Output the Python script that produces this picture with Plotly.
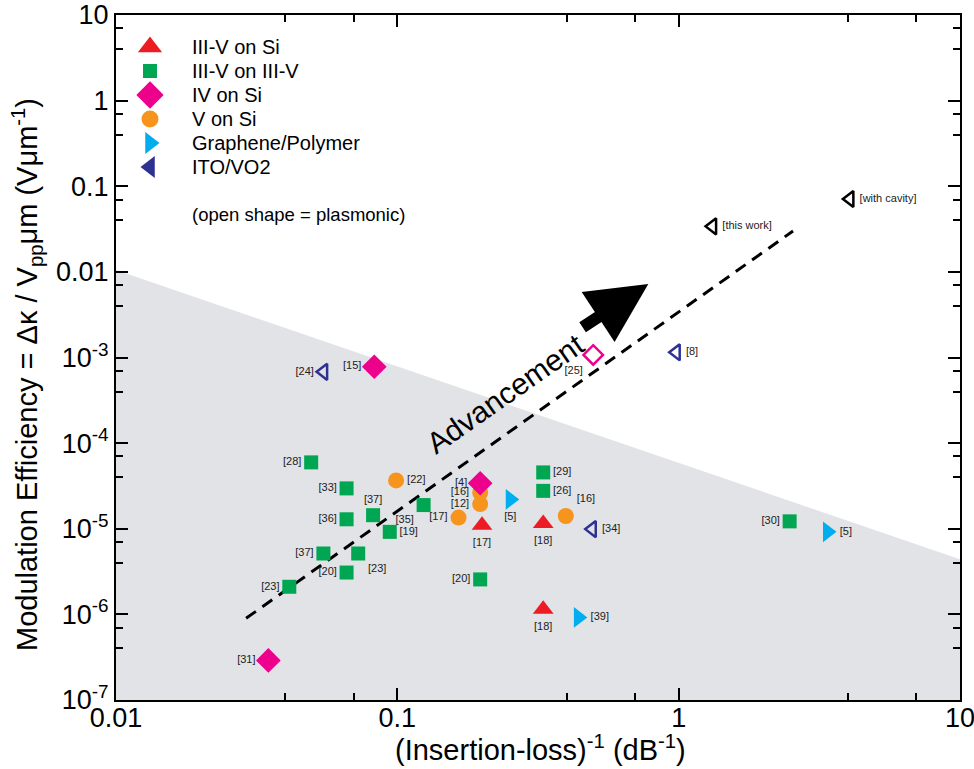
import plotly.graph_objects as go
import math

# ---------------- data ----------------
si35_x = [0.20, 0.33, 0.33]
si35_y = [1.1e-5, 1.15e-5, 1.15e-6]
si35_lab = ["[17]", "[18]", "[18]"]
si35_pos = ["bottom center", "bottom center", "bottom center"]

v35_x = [0.0494, 0.066, 0.066, 0.082, 0.094, 0.124, 0.0546, 0.0726, 0.066, 0.0413, 0.197, 0.33, 0.33, 2.48]
v35_y = [5.96e-5, 2.96e-5, 1.29e-5, 1.44e-5, 9.2e-6, 1.89e-5, 5.14e-6, 5.14e-6, 3.08e-6, 2.1e-6, 2.56e-6, 4.55e-5, 2.77e-5, 1.22e-5]
v35_lab = ["[28]", "[33]", "[36]", "[37]", "[19]", "[35]", "[37]", "[23]", "[20]", "[23]", "[20]", "[29]", "[26]", "[30]"]
v35_pos = ["middle left", "middle left", "middle left", "top center", "middle right", "bottom left",
           "middle left", "bottom right", "middle left", "middle left", "middle left",
           "middle right", "middle right", "middle left"]

ivsi_x = [0.0828, 0.0348, 0.197]
ivsi_y = [7.8e-4, 2.9e-7, 3.4e-5]
ivsi_lab = ["[15]", "[31]", "[4]"]
ivsi_pos = ["middle left", "middle left", "middle left"]

ivsi_open_x = [0.497]
ivsi_open_y = [1.07e-3]
ivsi_open_lab = ["[25]"]

vsi_x = [0.099, 0.197, 0.197, 0.165, 0.397]
vsi_y = [3.67e-5, 2.65e-5, 1.94e-5, 1.35e-5, 1.41e-5]
vsi_lab = ["[22]", "[16]", "[12]", "[17]", "[16]"]
vsi_pos = ["middle right", "middle left", "middle left", "middle left", "top right"]

gp_x = [0.252, 3.38, 0.44]
gp_y = [2.2e-5, 9.2e-6, 9.2e-7]
gp_lab = ["[5]", "[5]", "[39]"]
gp_pos = ["bottom center", "middle right", "middle right"]

ito_x = [0.0547, 0.493, 0.98]
ito_y = [6.8e-4, 9.9e-6, 1.15e-3]
ito_lab = ["[24]", "[34]", "[8]"]
ito_pos = ["middle left", "middle right", "middle right"]

work_x = [1.32, 4.06]
work_y = [0.034, 0.071]
work_lab = ["[this work]", "[with cavity]"]

shade_x = [0.01, 10, 10, 0.01]
shade_y = [0.0105, 4.4e-6, 1e-7, 1e-7]

trend_x = [0.029, 2.55]
trend_y = [9e-7, 0.030]

x_ticks = [0.01, 0.1, 1, 10]
x_ticktext = ["0.01", "0.1", "1", "10"]
y_ticks = [1e-7, 1e-6, 1e-5, 1e-4, 1e-3, 0.01, 0.1, 1, 10]
y_ticktext = ["10<sup>-7</sup>", "10<sup>-6</sup>", "10<sup>-5</sup>", "10<sup>-4</sup>", "10<sup>-3</sup>",
              "0.01", "0.1", "1", "10"]

legend_names = ["III-V on Si", "III-V on III-V", "IV on Si", "V on Si", "Graphene/Polymer", "ITO/VO2"]
legend_note = "(open shape = plasmonic)"

RED = "#ed1c24"
GREEN = "#00a651"
MAG = "#ec008c"
ORANGE = "#f7941d"
BLUE = "#00aeef"
NAVY = "#2e3192"
FONT = "Liberation Sans, Arial, sans-serif"
LABF = dict(family=FONT, size=11, color="#222")

legend_symbols = ["triangle-up", "square", "diamond", "circle", "triangle-right", "triangle-left"]
legend_colors = [RED, GREEN, MAG, ORANGE, BLUE, NAVY]
legend_sizes = [21, 14, 21, 17, 19, 19]

fig = go.Figure()

fig.add_trace(go.Scatter(x=shade_x, y=shade_y, fill="toself", mode="lines",
                         line=dict(width=0), fillcolor="#e1e3e6", showlegend=False, hoverinfo="skip"))
fig.add_trace(go.Scatter(x=trend_x, y=trend_y, mode="lines",
                         line=dict(color="black", width=3, dash="12px,8px"), showlegend=False))


def pts(x, y, lab, pos, sym, size, color, lw=0):
    fig.add_trace(go.Scatter(
        x=x, y=y, mode="markers+text", text=lab, textposition=pos, textfont=LABF,
        showlegend=False,
        marker=dict(symbol=sym, size=size, color=color, opacity=1, line=dict(width=lw, color=color))))


pts(v35_x, v35_y, v35_lab, v35_pos, "square", 14, GREEN)
pts(vsi_x, vsi_y, vsi_lab, vsi_pos, "circle", 16, ORANGE)
pts(si35_x, si35_y, si35_lab, si35_pos, "triangle-up", 18, RED)
pts(ivsi_x, ivsi_y, ivsi_lab, ivsi_pos, "diamond", 19, MAG)
pts(ivsi_open_x, ivsi_open_y, ivsi_open_lab, ["bottom left"], "diamond-open", 15, MAG, lw=2.5)
pts(gp_x, gp_y, gp_lab, gp_pos, "triangle-right", 18, BLUE)
pts(ito_x, ito_y, ito_lab, ito_pos, "triangle-left-open", 14, NAVY, lw=2.5)
pts(work_x, work_y, work_lab, ["middle right", "middle right"], "triangle-left-open", 14, "black", lw=2.5)

# ---- custom legend drawn on an overlay axis measured in plot-area pixels ----
leg_x0, leg_y0, leg_dy, leg_tx = 34, 32, 24, 74
n = len(legend_names)
fig.add_trace(go.Scatter(
    x=[leg_x0] * n, y=[leg_y0 + i * leg_dy for i in range(n)], xaxis="x2", yaxis="y2",
    mode="markers", showlegend=False, hoverinfo="skip",
    marker=dict(symbol=legend_symbols, color=legend_colors, size=legend_sizes, opacity=1,
                line=dict(width=0))))
for i, name in enumerate(legend_names):
    fig.add_annotation(x=leg_tx, y=leg_y0 + i * leg_dy, xref="x2", yref="y2", text=name,
                       xanchor="left", yanchor="middle", showarrow=False,
                       font=dict(family=FONT, size=20, color="black"))
fig.add_annotation(x=leg_tx, y=leg_y0 + n * leg_dy + 23, xref="x2", yref="y2", text=legend_note,
                   xanchor="left", yanchor="middle", showarrow=False,
                   font=dict(family=FONT, size=18.5, color="black"))

fig.add_annotation(x=-0.616, y=-3.416, xref="x", yref="y", text="Advancement",
                   showarrow=False, textangle=-35, font=dict(family=FONT, size=30, color="black"))
fig.add_annotation(x=math.log10(0.78), y=math.log10(7.2e-3), ax=math.log10(0.45), ay=math.log10(2.2e-3),
                   xref="x", yref="y", axref="x", ayref="y", text="", showarrow=True,
                   arrowhead=2, arrowsize=1.0, arrowwidth=12, arrowcolor="black")

# axis titles
fig.add_annotation(x=(27 - 116) / 844, y=(700 - 375) / 685, xref="paper", yref="paper", textangle=-90,
                   xanchor="center", yanchor="middle",
                   text="Modulation Efficiency = Δκ / V<sub>pp</sub>μm (Vμm<sup>-1</sup>)",
                   showarrow=False, font=dict(family=FONT, size=29, color="black"))
fig.add_annotation(x=(540 - 116) / 844, y=(700 - 748) / 685, xref="paper", yref="paper",
                   xanchor="center", yanchor="middle",
                   text="(Insertion-loss)<sup>-1</sup> (dB<sup>-1</sup>)",
                   showarrow=False, font=dict(family=FONT, size=29, color="black"))

axis_common = dict(type="log", showline=True, linecolor="black", linewidth=2, mirror="ticks",
                   ticks="inside", ticklen=12, tickwidth=2, tickcolor="black", showgrid=False,
                   zeroline=False, automargin=False, ticklabeloverflow="allow",
                   tickfont=dict(family=FONT, size=27, color="black"))

y_minor = [m * 10.0 ** e for e in range(-7, 1) for m in (4, 7)]
fig.update_layout(
    xaxis=dict(range=[-2, 1], tickvals=x_ticks, ticktext=x_ticktext, ticklabelstandoff=-7,
               minor=dict(tickvals=[0.04, 0.07, 0.4, 0.7, 4, 7], ticks="inside", ticklen=7,
                          tickwidth=2, tickcolor="black", showgrid=False),
               **axis_common),
    yaxis=dict(range=[-7, 1], tickvals=y_ticks, ticktext=y_ticktext,
               minor=dict(tickvals=y_minor, ticks="inside", ticklen=7, tickwidth=2,
                          tickcolor="black", showgrid=False),
               **axis_common),
    xaxis2=dict(overlaying="x", anchor="y2", range=[0, 844], visible=False, fixedrange=True),
    yaxis2=dict(overlaying="y", anchor="x2", range=[685, 0], visible=False, fixedrange=True),
)

fig.update_layout(
    width=974, height=769, paper_bgcolor="white", plot_bgcolor="white",
    margin=dict(l=116, r=14, t=15, b=69),
    showlegend=False,
    font=dict(family=FONT),
)

fig.write_html("out.html")
